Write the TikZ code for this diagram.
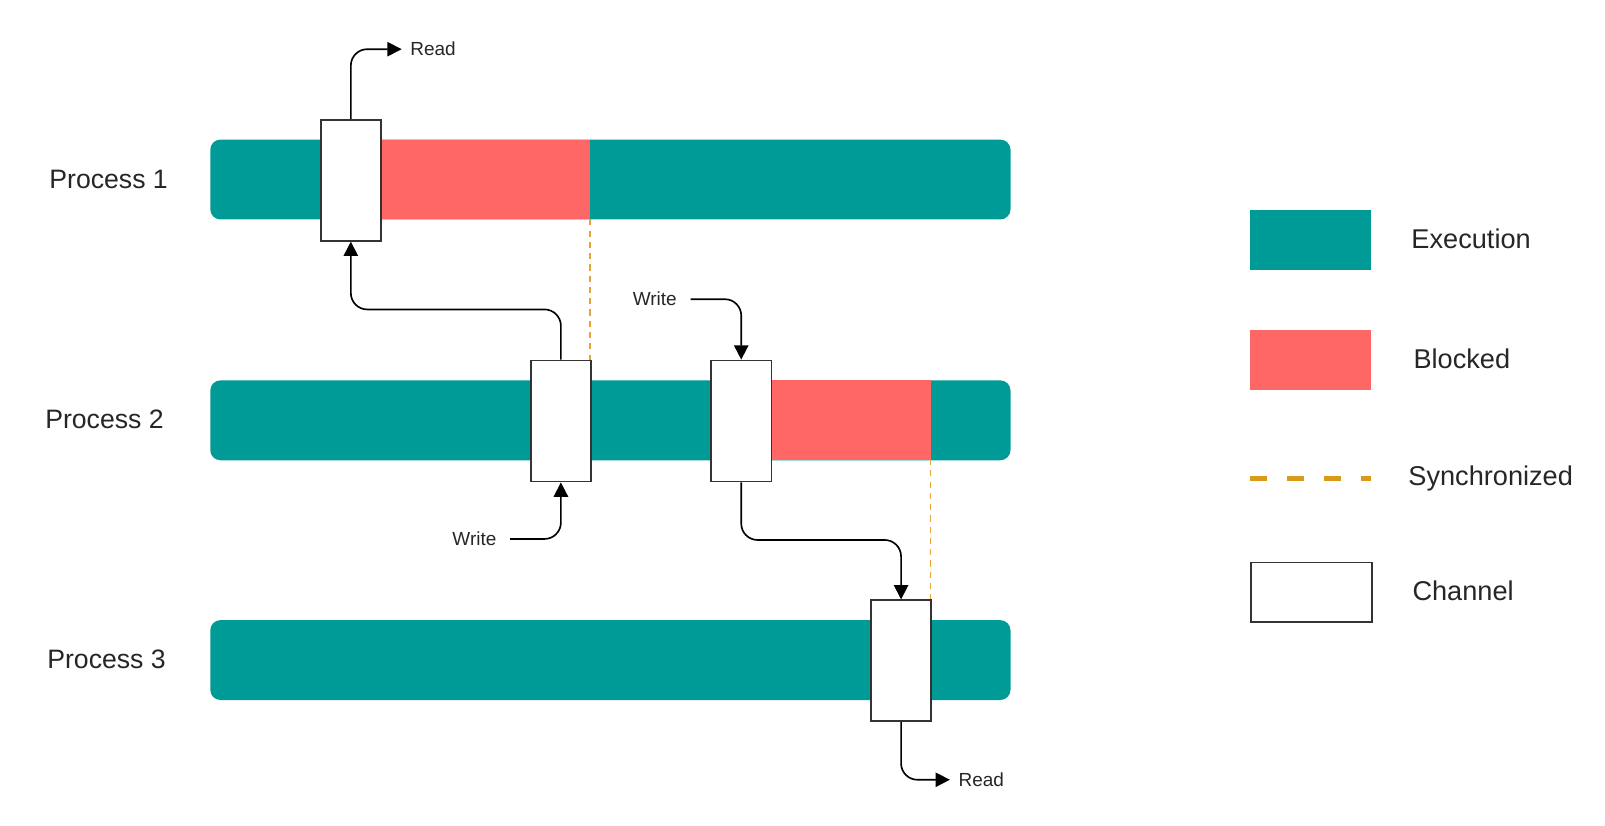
\documentclass[tikz,border=0pt]{standalone}
\usepackage{fontspec}
\setmainfont{Liberation Sans}
\usetikzlibrary{arrows.meta}
\definecolor{teal1}{HTML}{009B96}
\definecolor{red1}{HTML}{FF6666}
\definecolor{sync}{HTML}{E3A53A}
\definecolor{syncl}{HTML}{DA9B1C}
\definecolor{chb}{HTML}{333333}
\tikzset{
  bar/.style={fill=teal1, rounded corners=10pt, anchor=north west, inner sep=0pt, minimum width=781pt, minimum height=78pt},
  blocked/.style={fill=red1, anchor=north west, inner sep=0pt, minimum height=78pt},
  chan/.style={draw=chb, line width=1.8pt, fill=white, anchor=north west, inner sep=0pt, minimum width=59pt, minimum height=118pt},
  conn/.style={line width=1.6pt, rounded corners=16pt, -{Triangle[length=14pt,width=14pt]}},
  syncline/.style={draw=sync, line width=1.5pt, dash pattern=on 6pt off 5pt},
  lbl/.style={font=\fontsize{26}{30}\selectfont, text=black!85},
  small/.style={font=\fontsize{18.5}{22}\selectfont, text=black!85},
  legtxt/.style={font=\fontsize{26.5}{30}\selectfont, text=black!85, anchor=west},
  legbox/.style={anchor=north west, inner sep=0pt, minimum width=118pt, minimum height=58pt}
}
\begin{document}
\begin{tikzpicture}[x=1pt,y=-1pt]
\useasboundingbox (0,0) rectangle (1566.4,805.2);
% bars
\node[bar] (p1) at (205,136) {};
\node[bar] (p2) at (205,371) {};
\node[bar] (p3) at (205,605) {};
\node[blocked, minimum width=205pt] (b1) at (371,136) {};
\node[blocked, minimum width=156pt] (b2) at (752,371) {};
% labels
\node[lbl] (l1) at (106,175) {Process 1};
\node[lbl] (l2) at (102,409) {Process 2};
\node[lbl] (l3) at (104,643) {Process 3};
% sync lines
\coordinate (s1a) at (576,214);
\coordinate (s1b) at (576,351);
\coordinate (s2a) at (908,448);
\coordinate (s2b) at (908,585);
\draw[syncline] (s1a) -- (s1b);
\draw[syncline] (s2a) -- (s2b);
% channels
\node[chan] (c1) at (312,116) {};
\node[chan] (c2) at (517,351) {};
\node[chan] (c3) at (693,351) {};
\node[chan] (c4) at (849,585) {};
% texts
\node[small, anchor=west] (r1) at (397,48) {Read};
\node[small, anchor=west] (r2) at (932,761) {Read};
\node[small] (w1) at (463,526) {Write};
\node[small] (w2) at (639,292) {Write};
% connectors
\coordinate (k1) at (0,302);
\coordinate (k2) at (0,527);
\draw[conn, shorten >=5pt] (c1.north) |- (r1.west);
\draw[conn] (c2.north) |- (c1.south |- k1) -- (c1.south);
\draw[conn] (w1.east) ++(10pt,0) -| (c2.south);
\draw[conn] (w2.east) ++(10pt,0) -| (c3.north);
\draw[conn] (c3.south) |- (c4.north |- k2) -- (c4.north);
\draw[conn, shorten >=5pt] (c4.south) |- (r2.west);
% legend
\node[legbox, fill=teal1] (le) at (1220,205) {};
\node[legbox, fill=red1] (lb) at (1220,322) {};
\coordinate (lsa) at (1220,467);
\coordinate (lsb) at (1338,467);
\draw[draw=syncl, line width=5pt, dash pattern=on 17pt off 19pt] (lsa) -- (lsb);
\node[legbox, draw=chb, line width=1.8pt, fill=white] (lc) at (1220,548) {};
\node[legtxt] (te) at (1374,233) {Execution};
\node[legtxt] (tb) at (1376,350) {Blocked};
\node[legtxt] (ts) at (1371,467) {Synchronized};
\node[legtxt] (tc) at (1375,577) {Channel};
\end{tikzpicture}
\end{document}
